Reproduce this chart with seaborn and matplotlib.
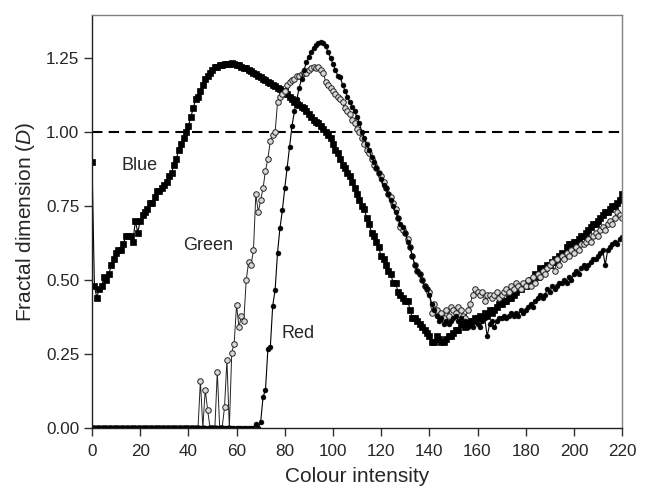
import numpy as np
import pandas as pd
import matplotlib
matplotlib.use("Agg")
import matplotlib.pyplot as plt
import seaborn as sns

# colour intensity, one point per integer level
intensity = np.arange(0, 221)

blue = [
    0.90, 0.48, 0.44, 0.47, 0.48, 0.51, 0.50, 0.52, 0.55, 0.57,
    0.59, 0.60, 0.60, 0.62, 0.65, 0.65, 0.65, 0.63, 0.70, 0.66,
    0.70, 0.72, 0.73, 0.74, 0.76, 0.76, 0.78, 0.80, 0.80, 0.81,
    0.82, 0.83, 0.85, 0.86, 0.89, 0.91, 0.94, 0.96, 0.98, 1.00,
    1.02, 1.05, 1.08, 1.11, 1.12, 1.14, 1.16, 1.18, 1.19, 1.20,
    1.21, 1.22, 1.22, 1.225, 1.225, 1.23, 1.23, 1.23, 1.232, 1.23,
    1.228, 1.225, 1.22, 1.218, 1.215, 1.21, 1.205, 1.20, 1.195, 1.19,
    1.185, 1.18, 1.175, 1.17, 1.165, 1.16, 1.155, 1.15, 1.145, 1.14,
    1.14, 1.13, 1.12, 1.11, 1.10, 1.095, 1.09, 1.085, 1.08, 1.07,
    1.06, 1.05, 1.04, 1.035, 1.03, 1.02, 1.01, 1.00, 0.99, 0.98,
    0.96, 0.94, 0.93, 0.91, 0.89, 0.88, 0.86, 0.85, 0.83, 0.81,
    0.79, 0.77, 0.75, 0.74, 0.71, 0.69, 0.66, 0.65, 0.63, 0.61,
    0.58, 0.57, 0.55, 0.53, 0.52, 0.49, 0.49, 0.46, 0.45, 0.44,
    0.43, 0.43, 0.40, 0.37, 0.37, 0.36, 0.35, 0.34, 0.33, 0.32,
    0.31, 0.29, 0.29, 0.31, 0.30, 0.29, 0.29, 0.30, 0.31, 0.31,
    0.32, 0.33, 0.33, 0.35, 0.35, 0.34, 0.36, 0.35, 0.36, 0.37,
    0.37, 0.38, 0.37, 0.39, 0.38, 0.40, 0.39, 0.40, 0.41, 0.42,
    0.42, 0.43, 0.43, 0.44, 0.44, 0.45, 0.46, 0.47, 0.47, 0.48,
    0.48, 0.49, 0.50, 0.50, 0.52, 0.51, 0.54, 0.53, 0.54, 0.55,
    0.55, 0.56, 0.57, 0.56, 0.58, 0.59, 0.58, 0.61, 0.62, 0.62,
    0.63, 0.63, 0.64, 0.65, 0.65, 0.66, 0.67, 0.68, 0.69, 0.69,
    0.70, 0.71, 0.72, 0.73, 0.73, 0.74, 0.75, 0.75, 0.76, 0.77,
    0.79,
]

green = [
    0.0, 0.0, 0.0, 0.0, 0.0, 0.0, 0.0, 0.0, 0.0, 0.0,
    0.0, 0.0, 0.0, 0.0, 0.0, 0.0, 0.0, 0.0, 0.0, 0.0,
    0.0, 0.0, 0.0, 0.0, 0.0, 0.0, 0.0, 0.0, 0.0, 0.0,
    0.0, 0.0, 0.0, 0.0, 0.0, 0.0, 0.0, 0.0, 0.0, 0.0,
    0.0, 0.0, 0.0, 0.0, 0.0, 0.16, 0.0, 0.13, 0.06, 0.0,
    0.0, 0.0, 0.19, 0.0, 0.0, 0.07, 0.23, 0.0, 0.255, 0.285,
    0.415, 0.34, 0.38, 0.36, 0.50, 0.56, 0.55, 0.60, 0.79, 0.73,
    0.77, 0.81, 0.87, 0.91, 0.97, 0.99, 1.00, 1.10, 1.12, 1.13,
    1.14, 1.16, 1.17, 1.175, 1.18, 1.19, 1.19, 1.195, 1.20, 1.20,
    1.21, 1.215, 1.22, 1.215, 1.22, 1.21, 1.20, 1.17, 1.16, 1.15,
    1.14, 1.13, 1.12, 1.11, 1.10, 1.08, 1.07, 1.06, 1.04, 1.03,
    1.01, 1.00, 0.98, 0.96, 0.94, 0.93, 0.91, 0.89, 0.88, 0.86,
    0.85, 0.83, 0.81, 0.79, 0.78, 0.76, 0.74, 0.71, 0.68, 0.67,
    0.66, 0.64, 0.61, 0.58, 0.55, 0.53, 0.52, 0.50, 0.48, 0.47,
    0.46, 0.39, 0.42, 0.40, 0.38, 0.39, 0.37, 0.40, 0.38, 0.41,
    0.40, 0.39, 0.41, 0.40, 0.38, 0.37, 0.40, 0.42, 0.45, 0.47,
    0.46, 0.45, 0.46, 0.43, 0.45, 0.45, 0.44, 0.45, 0.46, 0.44,
    0.45, 0.46, 0.47, 0.46, 0.48, 0.47, 0.49, 0.48, 0.47, 0.49,
    0.48, 0.50, 0.48, 0.51, 0.49, 0.52, 0.51, 0.53, 0.52, 0.54,
    0.55, 0.56, 0.53, 0.57, 0.55, 0.58, 0.57, 0.59, 0.58, 0.60,
    0.59, 0.61, 0.60, 0.62, 0.62, 0.63, 0.64, 0.63, 0.65, 0.66,
    0.65, 0.67, 0.68, 0.67, 0.69, 0.70, 0.69, 0.71, 0.73, 0.72,
    0.71,
]

red = [
    0.0, 0.0, 0.0, 0.0, 0.0, 0.0, 0.0, 0.0, 0.0, 0.0,
    0.0, 0.0, 0.0, 0.0, 0.0, 0.0, 0.0, 0.0, 0.0, 0.0,
    0.0, 0.0, 0.0, 0.0, 0.0, 0.0, 0.0, 0.0, 0.0, 0.0,
    0.0, 0.0, 0.0, 0.0, 0.0, 0.0, 0.0, 0.0, 0.0, 0.0,
    0.0, 0.0, 0.0, 0.0, 0.0, 0.0, 0.0, 0.0, 0.0, 0.0,
    0.0, 0.0, 0.0, 0.0, 0.0, 0.0, 0.0, 0.0, 0.0, 0.0,
    0.0, 0.0, 0.0, 0.0, 0.0, 0.0, 0.0, 0.0, 0.013, 0.0,
    0.02, 0.105, 0.128, 0.267, 0.272, 0.413, 0.466, 0.592, 0.675, 0.735,
    0.81, 0.88, 0.95, 1.02, 1.07, 1.11, 1.15, 1.18, 1.21, 1.235,
    1.255, 1.27, 1.285, 1.295, 1.30, 1.305, 1.30, 1.29, 1.27, 1.25,
    1.23, 1.21, 1.19, 1.185, 1.16, 1.14, 1.12, 1.10, 1.085, 1.07,
    1.05, 1.03, 1.00, 0.98, 0.96, 0.94, 0.915, 0.90, 0.88, 0.86,
    0.84, 0.82, 0.81, 0.79, 0.77, 0.75, 0.73, 0.71, 0.69, 0.68,
    0.66, 0.63, 0.61, 0.58, 0.55, 0.53, 0.52, 0.50, 0.48, 0.47,
    0.45, 0.42, 0.40, 0.38, 0.36, 0.37, 0.35, 0.36, 0.35, 0.36,
    0.37, 0.38, 0.36, 0.37, 0.35, 0.36, 0.34, 0.35, 0.34, 0.36,
    0.35, 0.34, 0.36, 0.37, 0.31, 0.35, 0.36, 0.34, 0.36, 0.37,
    0.37, 0.38, 0.37, 0.38, 0.39, 0.38, 0.39, 0.38, 0.40, 0.39,
    0.40, 0.41, 0.42, 0.41, 0.43, 0.44, 0.45, 0.44, 0.45, 0.47,
    0.46, 0.48, 0.47, 0.48, 0.49, 0.49, 0.50, 0.49, 0.51, 0.50,
    0.52, 0.53, 0.52, 0.54, 0.55, 0.54, 0.55, 0.56, 0.57, 0.57,
    0.58, 0.59, 0.60, 0.55, 0.60, 0.61, 0.62, 0.63, 0.62, 0.64,
    0.645,
]

labels = ["Blue", "Green", "Red"]
label_pos = [(19.6, 0.888), (48.0, 0.618), (85.5, 0.318)]

sns.set_style("ticks")
plt.rcParams["font.family"] = ["Liberation Sans", "DejaVu Sans"]
plt.rcParams["mathtext.fontset"] = "custom"
plt.rcParams["mathtext.it"] = "Liberation Sans:italic"
plt.rcParams["mathtext.rm"] = "Liberation Sans"

fig, ax = plt.subplots(figsize=(6.46, 4.88), dpi=100)
fig.subplots_adjust(left=0.1424, right=0.963, top=0.969, bottom=0.123)

# reference line at D = 1
ax.axhline(1.0, color="black", linewidth=1.5, linestyle=(0, (5, 3)), zorder=1)

sns.lineplot(x=intensity, y=blue, ax=ax, color="black", linewidth=0.8,
             marker="s", markersize=4.3, markeredgewidth=0.5,
             markerfacecolor="black", markeredgecolor="black")
sns.lineplot(x=intensity, y=green, ax=ax, color="#222222", linewidth=0.7,
             marker="o", markersize=4.0, markeredgewidth=0.7,
             markerfacecolor="#d8d8d8", markeredgecolor="#222222")
sns.lineplot(x=intensity, y=red, ax=ax, color="black", linewidth=0.8,
             marker="o", markersize=3.5, markeredgewidth=0.4,
             markerfacecolor="black", markeredgecolor="black")

for name, (lx, ly) in zip(labels, label_pos):
    ax.text(lx, ly, name, ha="center", va="center", fontsize=13)

ax.set_xlim(0, 220)
ax.set_ylim(0, 1.395)
ax.set_xticks(np.arange(0, 221, 20))
ax.set_yticks([0.0, 0.25, 0.5, 0.75, 1.0, 1.25])
ax.set_yticklabels(["0.00", "0.25", "0.50", "0.75", "1.00", "1.25"])
ax.set_xlabel("Colour intensity", fontsize=15, labelpad=6)
ax.set_ylabel(r"Fractal dimension ($\mathit{D}$)", fontsize=15, labelpad=7)

for side in ["top", "right"]:
    ax.spines[side].set_visible(True)
    ax.spines[side].set_color("#808080")
    ax.spines[side].set_linewidth(1.0)
for side in ["left", "bottom"]:
    ax.spines[side].set_color("#202020")
    ax.spines[side].set_linewidth(1.0)
ax.tick_params(axis="both", labelsize=12.3, length=6, width=1,
               color="#303030", direction="out")
ax.tick_params(axis="x", pad=5.5)
ax.tick_params(axis="y", pad=3)

fig.savefig("out.png", dpi=100)
